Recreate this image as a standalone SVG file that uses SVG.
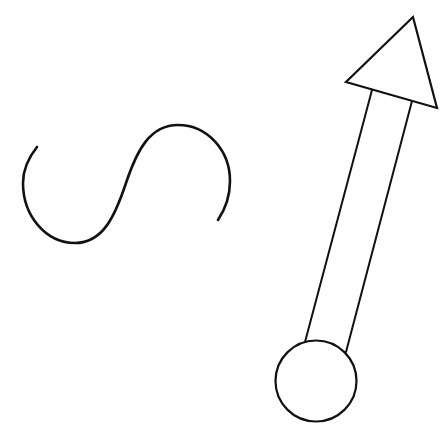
<svg xmlns="http://www.w3.org/2000/svg" width="443" height="425" viewBox="0 0 443 425">
<style>
.s{fill:none;stroke:#111;stroke-linecap:round;stroke-linejoin:miter}
</style>
<rect width="443" height="425" fill="#fff"/>
<g id="s-curve">
<path class="s" stroke-width="2.6" d="M37,147 C29,157 23,168 23,183 C23,216 46,243 75,243 C103,243 115,216 126,183 C137,150 150,125 178,125 C207,125 230,150 230,181 C230,196 226,208 218,220"/>
</g>
<g id="arrow">
<polygon class="s" stroke-width="2.2" points="413,17 346,82 437,108"/>
<line class="s" stroke-width="2" x1="372" y1="90" x2="305" y2="342"/>
<line class="s" stroke-width="2" x1="412" y1="101" x2="346" y2="352"/>
<circle class="s" stroke-width="2.2" cx="316" cy="381" r="40.5"/>
</g>
</svg>
